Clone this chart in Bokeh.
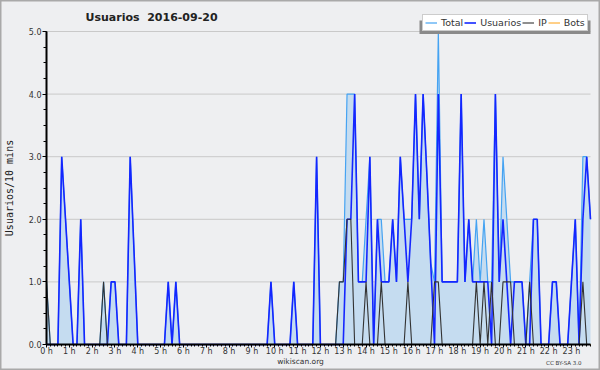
from bokeh.plotting import figure
from bokeh.models import (ColumnDataSource, FixedTicker, Legend, LegendItem, Label,
                          BoxAnnotation, Range1d, LinearAxis)
from bokeh.embed import file_html
from bokeh.resources import INLINE

# ---- data (one value per 10-minute slot, 144 slots) ----
hours = list(range(24))
hour_labels = [f"{h} h" for h in hours]
y_ticks = [0, 1, 2, 3, 4, 5]
y_tick_labels = ["0.0", "1.0", "2.0", "3.0", "4.0", "5.0"]

usuarios = [0, 0, 0, 0, 3, 2, 1, 0, 0, 2, 0, 0, 0, 0, 0, 0, 0, 1, 1, 0, 0, 0, 3, 1.5,
            0, 0, 0, 0, 0, 0, 0, 0, 1, 0, 1, 0, 0, 0, 0, 0, 0, 0, 0, 0, 0, 0, 0, 0,
            0, 0, 0, 0, 0, 0, 0, 0, 0, 0, 0, 1, 0, 0, 0, 0, 0, 1, 0, 0, 0, 0, 0, 3,
            0, 0, 0, 0, 0, 0, 0, 2, 2, 4, 1, 1, 1, 3, 0, 2, 1, 1, 1, 2, 1, 3, 2, 1,
            2, 4, 2, 4, 2.7, 1.3, 0, 4, 1, 1, 1, 1, 1, 4, 1, 2, 1, 1, 1, 1, 1, 0, 4, 1,
            2, 1, 0, 1, 1, 1, 0, 0, 2, 2, 0, 0, 0, 1, 1, 0, 0, 0, 1, 2, 0, 2, 3, 2]
ip = [1, 0, 0, 0, 0, 0, 0, 0, 0, 0, 0, 0, 0, 0, 0, 1, 0, 0, 0, 0, 0, 0, 0, 0,
      0, 0, 0, 0, 0, 0, 0, 0, 0, 0, 0, 0, 0, 0, 0, 0, 0, 0, 0, 0, 0, 0, 0, 0,
      0, 0, 0, 0, 0, 0, 0, 0, 0, 0, 0, 0, 0, 0, 0, 0, 0, 0, 0, 0, 0, 0, 0, 0,
      0, 0, 0, 0, 0, 1, 1, 2, 2, 0, 0, 0, 1, 0, 0, 0, 1, 0, 0, 0, 0, 0, 0, 1,
      0, 0, 0, 0, 0, 0, 1, 1, 0, 0, 0, 0, 0, 0, 0, 0, 0, 1, 0, 1, 0, 1, 0, 0,
      1, 1, 1, 0, 0, 0, 0, 1, 0, 0, 0, 0, 0, 0, 0, 0, 0, 0, 0, 0, 0, 1, 0, 0]
bots = [0] * 144
total = [1, 0, 0, 0, 3, 2, 1, 0, 0, 2, 0, 0, 0, 0, 0, 1, 0, 1, 1, 0, 0, 0, 3, 1.5,
         0, 0, 0, 0, 0, 0, 0, 0, 1, 0, 1, 0, 0, 0, 0, 0, 0, 0, 0, 0, 0, 0, 0, 0,
         0, 0, 0, 0, 0, 0, 0, 0, 0, 0, 0, 1, 0, 0, 0, 0, 0, 1, 0, 0, 0, 0, 0, 3,
         0, 0, 0, 0, 0, 1, 1, 4, 4, 4, 1, 1, 2, 3, 0, 2, 2, 1, 1, 2, 1, 3, 2, 2,
         2, 4, 2, 4, 2.7, 1.3, 1, 5, 1, 1, 1, 1, 1, 4, 1, 2, 1, 2, 1, 2, 1, 1, 4, 1,
         3, 2, 1, 1, 1, 1, 0, 1, 2, 2, 0, 0, 0, 1, 1, 0, 0, 0, 1, 2, 0, 3, 3, 2]

slot_hours = [i / 6 for i in range(len(total))]
x_last = slot_hours[-1]
y_top = y_ticks[-1]

src = ColumnDataSource(dict(t=slot_hours, total=total, usuarios=usuarios, ip=ip, bots=bots))

# ---- layout in pixels: the plot frame covers the whole canvas, the axes sit inside ----
W, H = 600, 370
X_L, X_R, Y_T, Y_B = 46, 590, 31, 344
kx = (X_R - X_L) / x_last
ky = (Y_B - Y_T) / y_top

BG = "#eeeff1"
FONT = "DejaVu Sans"

p = figure(width=W, height=H, output_backend="svg", toolbar_location=None,
           x_axis_location=None, y_axis_location=None,
           x_range=Range1d(-X_L / kx, (W - X_L) / kx),
           y_range=Range1d(-(H - Y_B) / ky, y_top + Y_T / ky),
           min_border=0, background_fill_color=BG, border_fill_color=BG,
           outline_line_color="#a9a9a9", outline_line_width=2)
for g in p.grid:
    g.visible = False

# horizontal grid lines (only inside the plotting area)
p.segment(x0=0, x1=x_last, y0=y_ticks, y1=y_ticks, line_color="#c9c9c9", line_width=1,
          level="underlay")

p.varea(x="t", y1=0, y2="total", source=src, fill_color="#c5dcf0", fill_alpha=1)
r_total = p.line("t", "total", source=src, line_color="#45a3f2", line_width=1.2)
r_users = p.line("t", "usuarios", source=src, line_color="#1426ff", line_width=1.6)
r_ip = p.line("t", "ip", source=src, line_color="#333333", line_width=1.1)
r_bots = p.line("t", "bots", source=src, line_color="#ffa010", line_width=1)

# axes
xaxis = LinearAxis(fixed_location=0, bounds=(0, x_last),
                   ticker=FixedTicker(ticks=hours, minor_ticks=slot_hours),
                   major_label_overrides={h: lab for h, lab in zip(hours, hour_labels)})
yaxis = LinearAxis(fixed_location=0, bounds=(0, y_top),
                   ticker=FixedTicker(ticks=y_ticks, minor_ticks=[k * 0.25 for k in range(21)]),
                   major_label_overrides={v: lab for v, lab in zip(y_ticks, y_tick_labels)},
                   axis_label="Usuarios/10 mins")
for ax in (xaxis, yaxis):
    ax.axis_line_color = "black"
    ax.axis_line_width = 2
    ax.major_tick_line_color = "black"
    ax.minor_tick_line_color = "black"
    ax.major_tick_in = 0
    ax.minor_tick_in = 0
    ax.major_label_text_font = FONT
    ax.major_label_text_font_size = "8px"
    ax.major_label_text_color = "#333333"
xaxis.major_tick_out = 3
xaxis.minor_tick_out = 2
xaxis.major_label_standoff = -1
yaxis.major_tick_out = 4
yaxis.minor_tick_out = 3
yaxis.major_label_standoff = 1
yaxis.axis_label_text_font = "DejaVu Sans Mono"
yaxis.axis_label_text_font_size = "10px"
yaxis.axis_label_text_font_style = "normal"
yaxis.axis_label_text_color = "#222222"
yaxis.axis_label_standoff = 11
p.add_layout(xaxis, "below")
p.add_layout(yaxis, "left")

# title & footer texts (screen px from the canvas bottom-left)
p.add_layout(Label(x=85, y=H - 17, x_units="screen", y_units="screen",
                   text="Usuarios\u00a0\u00a02016-09-20",
                   text_font=FONT, text_font_size="11px", text_font_style="bold",
                   text_color="#222222", text_baseline="middle"))
p.add_layout(Label(x=300, y=H - 361, x_units="screen", y_units="screen", text="wikiscan.org",
                   text_font=FONT, text_font_size="7.5px", text_color="#333333",
                   text_align="center", text_baseline="middle"))
p.add_layout(Label(x=581, y=H - 362, x_units="screen", y_units="screen", text="CC BY-SA 3.0",
                   text_font=FONT, text_font_size="5.5px", text_color="#333333",
                   text_align="right", text_baseline="middle"))

# legend shadow + legend
p.add_layout(BoxAnnotation(left=419, right=590, bottom=H - 33.5, top=H - 20,
                           left_units="screen", right_units="screen",
                           bottom_units="screen", top_units="screen",
                           fill_color="#8a8a8a", fill_alpha=1, line_color=None))
legend = Legend(items=[LegendItem(label="Total", renderers=[r_total]),
                       LegendItem(label="Usuarios", renderers=[r_users]),
                       LegendItem(label="IP", renderers=[r_ip]),
                       LegendItem(label="Bots", renderers=[r_bots])],
                orientation="horizontal", location=(422, H - 31),
                label_text_font=FONT, label_text_font_size="9.5px", label_text_color="#333333",
                glyph_width=12, glyph_height=11, label_height=11, label_width=1,
                label_standoff=4, spacing=1, padding=2, margin=0,
                border_line_color="#9a9a9a", border_line_width=1,
                background_fill_color="white", background_fill_alpha=1)
p.add_layout(legend)

open("out.html", "w").write(file_html(p, INLINE))
